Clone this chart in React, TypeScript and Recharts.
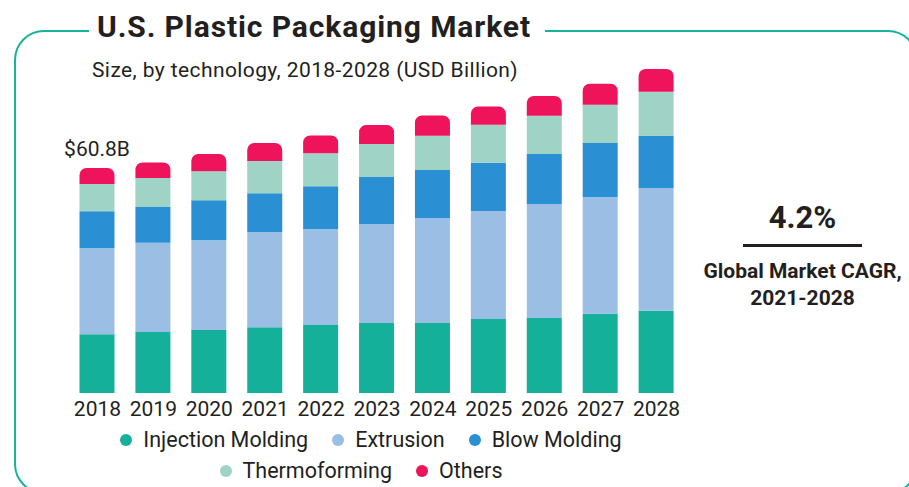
import React from "react";
import { BarChart, Bar, XAxis, YAxis, LabelList } from "recharts";

const years = ["2018", "2019", "2020", "2021", "2022", "2023", "2024", "2025", "2026", "2027", "2028"];
const injection = [15.9, 16.5, 17.0, 17.8, 18.4, 18.9, 18.9, 20.0, 20.3, 21.4, 22.2];
const extrusion = [23.2, 24.1, 24.3, 25.7, 25.9, 26.8, 28.4, 29.2, 30.8, 31.6, 33.2];
const blowMolding = [10.0, 9.7, 10.8, 10.5, 11.6, 12.7, 13.0, 13.0, 13.5, 14.6, 14.1];
const thermoforming = [7.4, 7.8, 7.8, 8.7, 8.9, 8.9, 9.2, 10.3, 10.3, 10.3, 11.9];
const others = [4.3, 4.2, 4.7, 4.9, 4.8, 5.1, 5.5, 4.9, 5.4, 5.7, 6.2];

const series = [
  { key: "injection", name: "Injection Molding", color: "#15b099", values: injection },
  { key: "extrusion", name: "Extrusion", color: "#9bbfe4", values: extrusion },
  { key: "blow", name: "Blow Molding", color: "#2b8fd3", values: blowMolding },
  { key: "thermo", name: "Thermoforming", color: "#9ed3c5", values: thermoforming },
  { key: "others", name: "Others", color: "#ef135b", values: others },
];

const data = years.map((year, i) => {
  const row: Record<string, number | string> = { year };
  series.forEach((s) => (row[s.key] = s.values[i]));
  return row;
});

const firstTotal = series.reduce((sum, s) => sum + s.values[0], 0);

const TEXT = "#231f20";
const TEAL = "#17b39b";
const FONT = "Roboto, 'Noto Sans', sans-serif";

function FirstLabel(props: any) {
  const { x, y, width, index } = props;
  if (index !== 0) return null;
  return (
    <text
      x={x + width / 2}
      y={y - 12}
      textAnchor="middle"
      fontSize={21}
      fill={TEXT}
      fontFamily={FONT}
    >
      {`$${firstTotal.toFixed(1)}B`}
    </text>
  );
}

function LegendItem({ name, color }: { name: string; color: string }) {
  return (
    <div style={{ display: "flex", alignItems: "center", margin: "0 12px" }}>
      <span
        style={{
          width: 12,
          height: 12,
          borderRadius: "50%",
          background: color,
          marginRight: 11,
        }}
      />
      <span>{name}</span>
    </div>
  );
}

export default function App() {
  const rows = [series.slice(0, 3), series.slice(3)];
  return (
    <div
      style={{
        position: "absolute",
        left: 0,
        top: 0,
        width: 909,
        height: 487,
        overflow: "hidden",
        background: "#fff",
        fontFamily: FONT,
        color: TEXT,
      }}
    >
      {/* frame */}
      <div
        style={{
          position: "absolute",
          left: 14,
          top: 30,
          width: 900,
          height: 460,
          border: `2.5px solid ${TEAL}`,
          borderRadius: 30,
        }}
      />
      <div
        style={{
          position: "absolute",
          left: 89,
          top: 9,
          padding: "0 14px 0 8px",
          background: "#fff",
          fontSize: 30,
          letterSpacing: 0.9,
          fontWeight: 700,
          lineHeight: "36px",
          whiteSpace: "nowrap",
        }}
      >
        U.S. Plastic Packaging Market
      </div>
      <div
        style={{
          position: "absolute",
          left: 92,
          top: 58,
          fontSize: 21,
          letterSpacing: 0.4,
          lineHeight: "24px",
          whiteSpace: "nowrap",
        }}
      >
        Size, by technology, 2018-2028 (USD Billion)
      </div>

      <div style={{ position: "absolute", left: 0, top: 0 }}>
        <BarChart
          width={909}
          height={487}
          data={data}
          margin={{ top: 60, right: 224.5, left: 69.5, bottom: 64 }}
        >
          <XAxis
            dataKey="year"
            axisLine={false}
            tickLine={false}
            height={30}
            interval={0}
            tick={{ fontSize: 21, fill: TEXT, fontFamily: FONT }}
          />
          <YAxis hide domain={[0, 90]} />
          {series.map((s, i) => (
            <Bar
              key={s.key}
              dataKey={s.key}
              name={s.name}
              stackId="a"
              fill={s.color}
              barSize={35}
              radius={i === series.length - 1 ? [7, 7, 0, 0] : 0}
              isAnimationActive={false}
            >
              {i === series.length - 1 && <LabelList dataKey={s.key} content={FirstLabel} />}
            </Bar>
          ))}
        </BarChart>
      </div>

      {/* legend */}
      <div
        style={{
          position: "absolute",
          left: 71,
          width: 600,
          top: 426,
          fontSize: 21.5,
          lineHeight: "28px",
        }}
      >
        {rows.map((row, r) => (
          <div
            key={r}
            style={{
              display: "flex",
              justifyContent: "center",
              marginBottom: 3,
              paddingRight: r === 1 ? 20 : 0,
            }}
          >
            {row.map((s) => (
              <LegendItem key={s.key} name={s.name} color={s.color} />
            ))}
          </div>
        ))}
      </div>

      {/* CAGR panel */}
      <div
        style={{
          position: "absolute",
          left: 700,
          width: 205,
          top: 198,
          textAlign: "center",
        }}
      >
        <div style={{ fontSize: 31, fontWeight: 700, lineHeight: "40px" }}>4.2%</div>
        <div
          style={{
            width: 119,
            height: 3,
            background: TEXT,
            margin: "6px auto 11px",
          }}
        />
        <div style={{ fontSize: 21, fontWeight: 700, lineHeight: "27px" }}>
          Global Market CAGR,
          <br />
          2021-2028
        </div>
      </div>
    </div>
  );
}
